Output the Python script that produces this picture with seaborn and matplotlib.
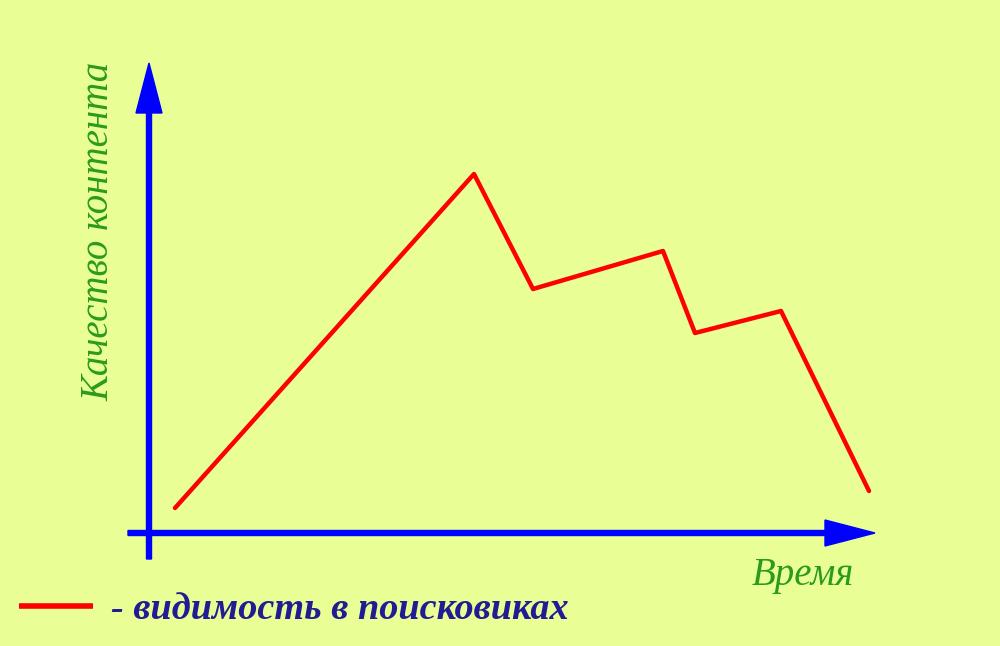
import matplotlib
matplotlib.use("Agg")
import matplotlib.pyplot as plt
import seaborn as sns
import pandas as pd

# Время / качество (условные единицы, начало координат в пересечении осей)
vremya = [26, 325, 384, 514, 546, 632, 720]
vidimost = [25, 359, 244, 282, 200, 222, 42]
legenda = "- видимость в поисковиках"

df = pd.DataFrame({"t": vremya, "v": vidimost})

sns.set_theme(style="white")
plt.rcParams["font.family"] = ["Liberation Serif", "DejaVu Serif"]

fon = "#E9FE95"
zelenyi = "#2C9A1C"
sinii = "#0000FF"

fig = plt.figure(figsize=(10, 6.46), dpi=100, facecolor=fon)
ax = fig.add_axes([0, 0, 1, 1])
ax.set_facecolor(fon)
ax.set_xlim(-149, 851)
ax.set_ylim(-113, 533)
ax.axis("off")

sns.lineplot(data=df, x="t", y="v", color="#FF0000", linewidth=3.2, ax=ax,
             label=legenda, sort=False)

# оси со стрелками
ax.arrow(-21, 0, 747, 0, width=5, head_width=26, head_length=50,
         length_includes_head=True, color=sinii, zorder=3)
ax.arrow(0, -26, 0, 496, width=5, head_width=26, head_length=50,
         length_includes_head=True, color=sinii, zorder=3)

ax.text(654, -42, "Время", color=zelenyi, fontsize=28, style="italic",
        ha="center", va="center")
ax.text(-50, 302, "Качество контента", color=zelenyi, fontsize=28,
        style="italic", rotation=90, ha="center", va="center")

leg = ax.legend(loc="center left", bbox_to_anchor=(0.019, 0.056), frameon=False,
                borderaxespad=0, borderpad=0,
                handlelength=1.95, handletextpad=0.45,
                prop={"size": 27.5, "style": "italic", "weight": "bold"})
for h in leg.get_lines():
    h.set_linewidth(4)
    h.set_solid_capstyle("butt")
for t in leg.get_texts():
    t.set_color("#221C93")

fig.savefig("out.png", dpi=100, facecolor=fon)
